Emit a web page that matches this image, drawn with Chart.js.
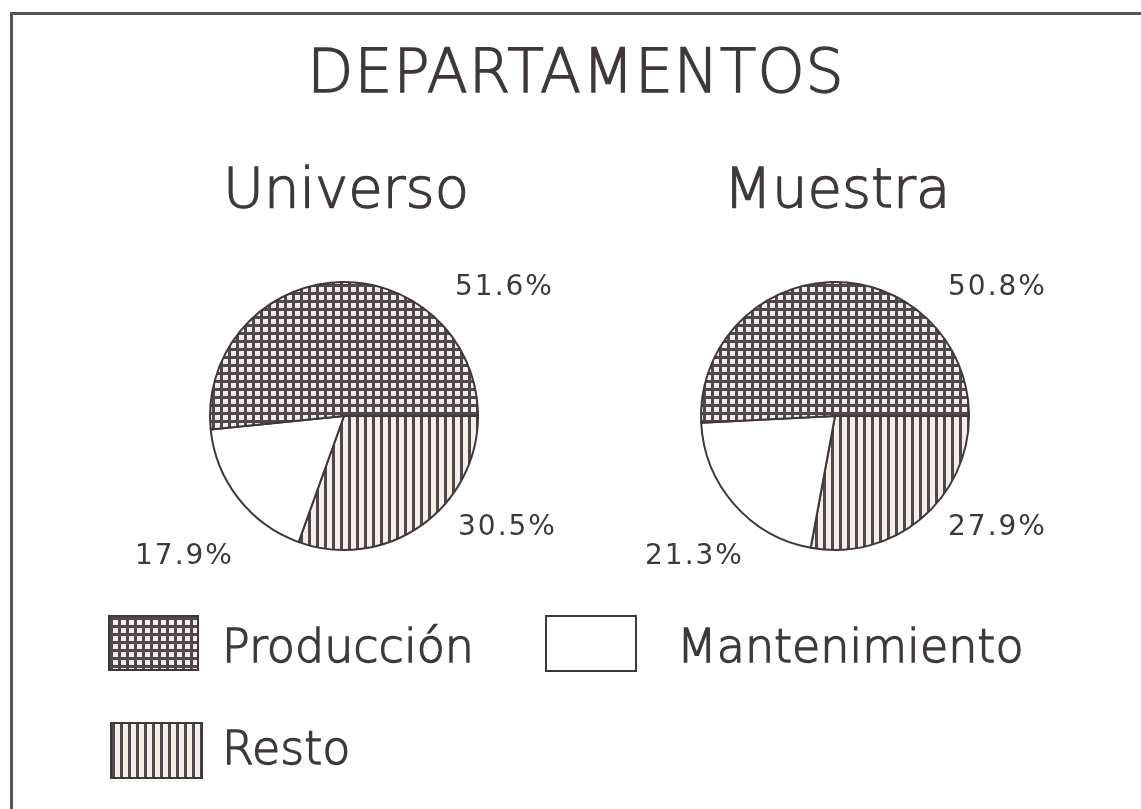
<!DOCTYPE html>
<html>
<head>
<meta charset="utf-8">
<script src="https://cdn.jsdelivr.net/npm/chart.js@4"></script>
<style>
  html, body { margin: 0; padding: 0; background: #ffffff; }
  body { width: 1141px; height: 809px; position: relative; overflow: hidden;
         font-family: "DejaVu Sans", sans-serif; color: #3e383c; }
  #frame { position: absolute; left: 10px; top: 12px; width: 1200px; height: 900px;
           border-left: 3px solid #5a5458; border-top: 3px solid #5a5458; }
  .txt { position: absolute; line-height: 1; white-space: nowrap; font-weight: 400; }
  .thin { font-weight: 200; -webkit-text-stroke: 1.3px #3e383c; }
  .center { transform: translateX(-50%); }
  canvas.pie { position: absolute; }
  .swatch { position: absolute; box-sizing: border-box; border: 2px solid #3e383c; }
</style>
</head>
<body>
<div id="frame"></div>

<div class="txt thin center" style="left:576px; top:41px; font-size:60px; letter-spacing:1px;">DEPARTAMENTOS</div>
<div class="txt thin center" id="title0" style="left:346px; top:160px; font-size:56px;"></div>
<div class="txt thin center" id="title1" style="left:837px; top:160px; font-size:56px;"></div>

<canvas class="pie" id="pie0" width="280" height="280" style="left:204px; top:276px;"></canvas>
<canvas class="pie" id="pie1" width="280" height="280" style="left:695px; top:276px;"></canvas>

<div id="labels"></div>
<div id="legend"></div>

<script>
  // categorias y valores (%)
  const categories = ["Producción", "Mantenimiento", "Resto"];
  const groups = ["Universo", "Muestra"];
  const universo = [51.6, 17.9, 30.5];
  const muestra = [50.8, 21.3, 27.9];
  const seriesValues = [universo, muestra];

  const ink = "#3e383c";
  const dark = "#4f474f";
  const light = "#f3efe7";

  function makeTile(kind) {
    const c = document.createElement("canvas");
    if (kind === "grid") {
      c.width = 8; c.height = 8;
      const g = c.getContext("2d");
      g.fillStyle = dark; g.fillRect(0, 0, 8, 8);
      g.fillStyle = light; g.fillRect(3, 3, 5, 5);
    } else if (kind === "stripes") {
      c.width = 8; c.height = 8;
      const g = c.getContext("2d");
      g.fillStyle = light; g.fillRect(0, 0, 8, 8);
      g.fillStyle = dark; g.fillRect(0, 0, 3, 8);
    } else {
      c.width = 4; c.height = 4;
      const g = c.getContext("2d");
      g.fillStyle = "#ffffff"; g.fillRect(0, 0, 4, 4);
    }
    return c;
  }

  const tiles = [makeTile("grid"), makeTile("plain"), makeTile("stripes")];

  // etiquetas de porcentaje: [left, top] por grafico y categoria
  const labelPos = [
    [[455, 272], [135, 541], [458, 512]],
    [[948, 272], [645, 541], [948, 512]]
  ];

  // Chart.js dibuja en sentido horario: se invierte el orden
  const order = [2, 1, 0];

  seriesValues.forEach((vals, idx) => {
    document.getElementById("title" + idx).textContent = groups[idx];
    const ctx = document.getElementById("pie" + idx).getContext("2d");
    const patterns = tiles.map((t) => ctx.createPattern(t, "repeat"));

    new Chart(ctx, {
      type: "pie",
      data: {
        labels: order.map((i) => categories[i]),
        datasets: [{
          data: order.map((i) => vals[i]),
          backgroundColor: order.map((i) => patterns[i]),
          borderColor: ink,
          borderWidth: 2
        }]
      },
      options: {
        responsive: false,
        animation: false,
        rotation: 90,
        layout: { padding: 5 },
        plugins: { legend: { display: false }, tooltip: { enabled: false } }
      }
    });

    vals.forEach((v, i) => {
      const el = document.createElement("div");
      el.className = "txt";
      el.style.left = labelPos[idx][i][0] + "px";
      el.style.top = labelPos[idx][i][1] + "px";
      el.style.fontSize = "28px";
      el.style.letterSpacing = "2px";
      el.textContent = v.toFixed(1) + "%";
      document.getElementById("labels").appendChild(el);
    });
  });

  // leyenda
  const legendPos = [
    { box: [108, 615, 91, 56], text: [222, 623] },
    { box: [545, 615, 92, 57], text: [677, 623] },
    { box: [110, 722, 93, 57], text: [222, 725] }
  ];
  const legendEl = document.getElementById("legend");
  categories.forEach((name, i) => {
    const p = legendPos[i];
    const sw = document.createElement("div");
    sw.className = "swatch";
    sw.style.left = p.box[0] + "px";
    sw.style.top = p.box[1] + "px";
    sw.style.width = p.box[2] + "px";
    sw.style.height = p.box[3] + "px";
    sw.style.backgroundImage = "url(" + tiles[i].toDataURL() + ")";
    legendEl.appendChild(sw);

    const t = document.createElement("div");
    t.className = "txt thin";
    t.style.left = p.text[0] + "px";
    t.style.top = p.text[1] + "px";
    t.style.fontSize = "46px";
    t.textContent = name;
    legendEl.appendChild(t);
  });
</script>
</body>
</html>
